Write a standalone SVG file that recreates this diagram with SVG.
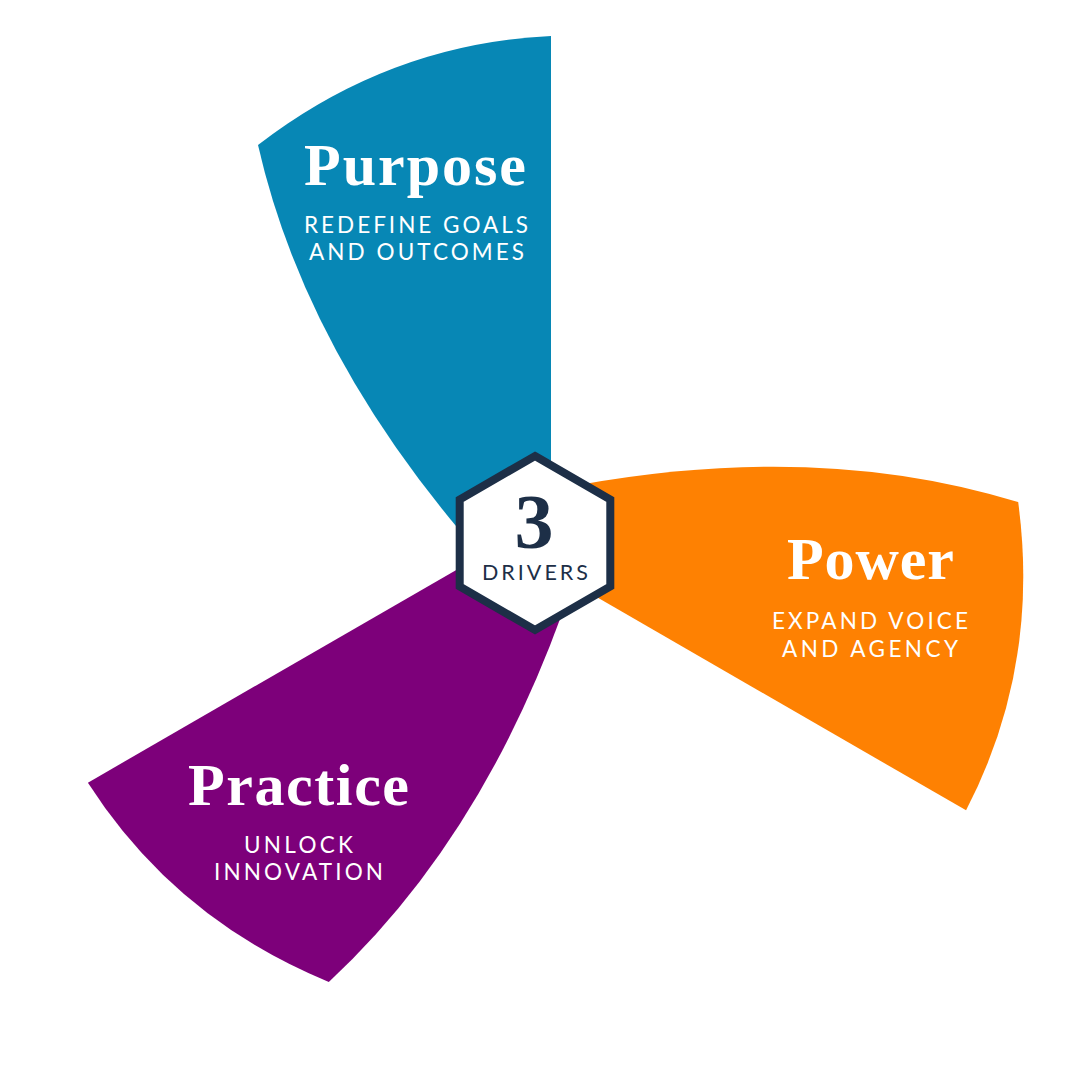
<svg xmlns="http://www.w3.org/2000/svg" width="1080" height="1080" viewBox="0 0 1080 1080">
  <style>
    .title { font-family: "Liberation Serif", "DejaVu Serif", serif; font-weight: bold; font-size: 60px; fill: #ffffff; text-anchor: middle; }
    .sub { font-family: "Lato", "Open Sans", "Liberation Sans", sans-serif; font-size: 22.5px; fill: #ffffff; text-anchor: middle; }
    .hex { fill: #ffffff; stroke: #1d2f47; stroke-width: 8; stroke-linejoin: miter; }
    .num { font-family: "Liberation Serif", "DejaVu Serif", serif; font-weight: bold; font-size: 78px; fill: #1d2f47; text-anchor: middle; }
    .drv { font-family: "Lato", "Open Sans", "Liberation Sans", sans-serif; font-size: 21.5px; fill: #1d2f47; text-anchor: middle; }
  </style>
  <defs>
    <path id="blade" d="M16,0 L16,-507 Q-145.5,-499.5 -277,-398 Q-231.5,-198 -74,-11 L0,0 Z"/>
  </defs>
  <rect width="1080" height="1080" fill="#ffffff"/>

  <g id="purpose">
    <use href="#blade" transform="translate(535,543)" fill="#0787b5"/>
    <text class="title" x="415" y="185" textLength="222" lengthAdjust="spacing">Purpose</text>
    <text class="sub" x="416" y="233" textLength="224" lengthAdjust="spacing">REDEFINE GOALS</text>
    <text class="sub" x="416.5" y="260" textLength="215" lengthAdjust="spacing">AND OUTCOMES</text>
  </g>

  <g id="power">
    <use href="#blade" transform="translate(535,543) rotate(120)" fill="#fe8102"/>
    <text class="title" x="870.5" y="579" textLength="167" lengthAdjust="spacing">Power</text>
    <text class="sub" x="870" y="629" textLength="196" lengthAdjust="spacing">EXPAND VOICE</text>
    <text class="sub" x="870" y="657" textLength="176" lengthAdjust="spacing">AND AGENCY</text>
  </g>

  <g id="practice">
    <use href="#blade" transform="translate(535,543) rotate(240)" fill="#7d007a"/>
    <text class="title" x="298.5" y="805" textLength="221" lengthAdjust="spacing">Practice</text>
    <text class="sub" x="298.5" y="853" textLength="109" lengthAdjust="spacing">UNLOCK</text>
    <text class="sub" x="298.5" y="880" textLength="169" lengthAdjust="spacing">INNOVATION</text>
  </g>

  <g id="connectors"/>

  <g id="hub">
    <polygon class="hex" points="535,456 610.3,499.5 610.3,586.5 535,630 459.7,586.5 459.7,499.5"/>
    <text class="num" x="534" y="548">3</text>
    <text class="drv" x="535" y="580" textLength="106" lengthAdjust="spacing">DRIVERS</text>
  </g>
</svg>
